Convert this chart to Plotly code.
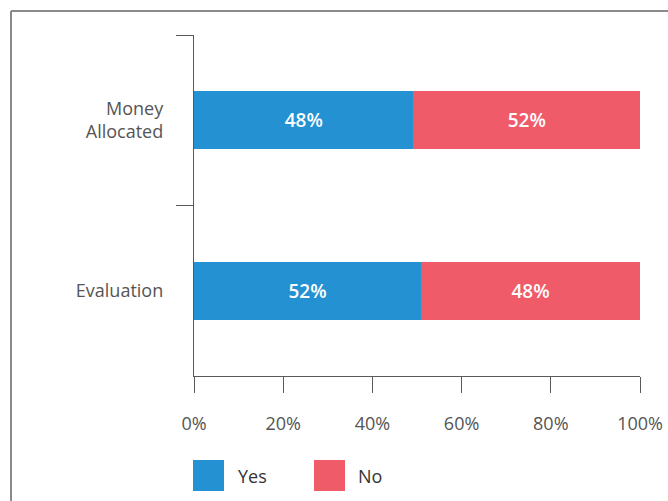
import plotly.graph_objects as go

categories = ["Money<br>Allocated", "Evaluation"]
yes_values = [49.2, 50.9]
no_values = [50.8, 49.1]
yes_labels = ["48%", "52%"]
no_labels = ["52%", "48%"]
x_ticks = [0, 20, 40, 60, 80, 100]
x_tick_labels = ["0%", "20%", "40%", "60%", "80%", "100%"]
series_names = ["Yes", "No"]

W, H = 668, 501
L, R, T, B = 194, 640, 35, 376
FONT = "Open Sans, Noto Sans, sans-serif"
BLUE = "#2492D2"
RED = "#F05B69"
AXIS = "#5a5a5a"


def px(x):
    return (x - L) / (R - L)


def py(y):
    return (B - y) / (B - T)


fig = go.Figure()
fig.add_trace(go.Bar(
    y=categories, x=yes_values, name=series_names[0], orientation="h",
    marker=dict(color=BLUE, line=dict(width=0)), text=yes_labels,
    textposition="inside", insidetextanchor="middle",
    textfont=dict(color="white", size=19, family=FONT, weight=600),
    showlegend=False, hoverinfo="skip"))
fig.add_trace(go.Bar(
    y=categories, x=no_values, name=series_names[1], orientation="h",
    marker=dict(color=RED, line=dict(width=0)), text=no_labels,
    textposition="inside", insidetextanchor="middle",
    textfont=dict(color="white", size=19, family=FONT, weight=600),
    showlegend=False, hoverinfo="skip"))

shapes = []
annotations = []
# outer frame (top and left edges)
shapes.append(dict(type="line", xref="paper", yref="paper",
                   x0=px(11), x1=px(700), y0=py(11), y1=py(11),
                   line=dict(color="#8a8a8a", width=2)))
shapes.append(dict(type="line", xref="paper", yref="paper",
                   x0=px(11), x1=px(11), y0=py(11), y1=py(530),
                   line=dict(color="#8a8a8a", width=2)))
# legend
leg = [(193, BLUE, series_names[0], 236), (314, RED, series_names[1], 356)]
for x0, col, name, tx in leg:
    shapes.append(dict(type="rect", xref="paper", yref="paper",
                       x0=px(x0), x1=px(x0 + 31), y0=py(460), y1=py(491),
                       fillcolor=col, line=dict(width=0)))
    annotations.append(dict(xref="paper", yref="paper", x=px(tx), y=py(476),
                            text=name, showarrow=False, xanchor="left", yanchor="middle",
                            font=dict(size=18, color="#333333", family=FONT)))

fig.update_layout(
    width=W, height=H,
    margin=dict(l=L, r=W - R, t=T, b=H - B, pad=0, autoexpand=False),
    barmode="stack", bargap=0.66,
    plot_bgcolor="white", paper_bgcolor="white",
    font=dict(family=FONT, color="#555555"),
    shapes=shapes, annotations=annotations,
    xaxis=dict(range=[0, 100], tickvals=x_ticks, ticktext=x_tick_labels,
               automargin=False,
               showgrid=False, zeroline=False, showline=True, linecolor=AXIS, linewidth=1.3,
               ticks="outside", ticklen=16, tickwidth=1.3, tickcolor=AXIS,
               tickfont=dict(size=18, color="#555555", family=FONT),
               ticklabelstandoff=15),
    yaxis=dict(autorange="reversed", showgrid=False, zeroline=False, automargin=False,
               showline=True, linecolor=AXIS, linewidth=1.3,
               ticks="outside", ticklen=17, tickwidth=1.3, tickcolor=AXIS,
               tickson="boundaries",
               tickfont=dict(size=18, color="#555555", family=FONT),
               ticklabelstandoff=26),
)

fig.write_html("out.html", config={"displayModeBar": False},
               post_script="document.body.style.margin='0';document.body.style.overflow='hidden';")
